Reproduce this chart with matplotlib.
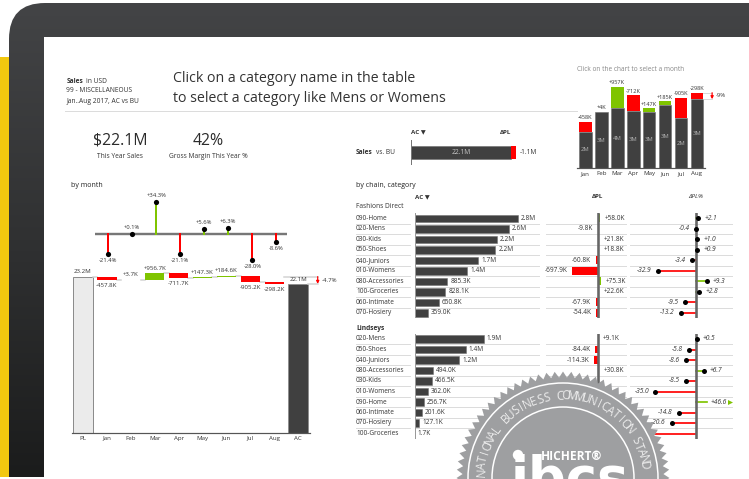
#!/usr/bin/env python3
"""Sales dashboard on a monitor frame, with waterfall, variance charts and tables."""
import numpy as np
import matplotlib
matplotlib.use('Agg')
import matplotlib.pyplot as plt
from matplotlib.patches import Circle, FancyBboxPatch, Polygon, Rectangle

plt.rcParams['font.family'] = ['Open Sans', 'DejaVu Sans']

W, H = 749, 479
DARK = '#404040'
RED = '#ff0000'
GREEN = '#7fc400'
TXT = '#333333'
GRID = '#dcdcdc'

months = ['Jan', 'Feb', 'Mar', 'Apr', 'May', 'Jun', 'Jul', 'Aug']

# by month
month_delta = [-457.8, 3.7, 956.7, -711.7, 147.3, 184.6, -905.2, -298.2]
month_pct = [-21.4, 0.1, 34.3, -21.1, 5.6, 6.3, -28.0, -8.6]
pl_total = 23.16
ac_total = 22.08
total_pct = -4.7

# top right columns
col_ac = [1.68, 2.58, 3.73, 2.63, 2.75, 3.07, 2.32, 3.17]
col_delta = [-458, 4, 957, -712, 147, 185, -905, -298]

# sales vs BU
bu_ac = 22.1
bu_delta = -1.1

# tables, values in K
fd_names = ['090-Home', '020-Mens', '030-Kids', '050-Shoes', '040-Juniors', '010-Womens',
            '080-Accessories', '100-Groceries', '060-Intimate', '070-Hosiery']
fd_ac = [2800, 2560, 2240, 2190, 1730, 1430, 885.3, 828.1, 650.8, 359.0]
fd_dpl = [58.0, -9.8, 21.8, 18.8, -60.8, -697.9, 75.3, 22.6, -67.9, -54.4]
fd_pct = [2.1, -0.4, 1.0, 0.9, -3.4, -32.9, 9.3, 2.8, -9.5, -13.2]

li_names = ['020-Mens', '050-Shoes', '040-Juniors', '080-Accessories', '030-Kids', '010-Womens',
            '090-Home', '060-Intimate', '070-Hosiery', '100-Groceries']
li_ac = [1880, 1390, 1210, 494.0, 466.5, 362.0, 256.7, 201.6, 127.1, 1.7]
li_dpl = [9.1, -84.4, -114.3, 30.8]  # the other rows sit behind the badge
li_pct = [0.5, -5.8, -8.6, 6.7, -8.5, -35.0, 46.6, -14.8, -20.6, -45.0]

fig = plt.figure(figsize=(W / 100, H / 100), dpi=100, facecolor='white')


def px(v):
    """Pixels to points."""
    return v * 0.72


def panel(x0, y0, x1, y1, zorder=1):
    """Axes placed by its pixel box, y measured from the top."""
    ax = fig.add_axes([x0 / W, 1 - y1 / H, (x1 - x0) / W, (y1 - y0) / H], zorder=zorder)
    ax.patch.set_alpha(0)
    for s in ax.spines.values():
        s.set_visible(False)
    ax.set_xticks([])
    ax.set_yticks([])
    return ax


def fmt_k(v):
    if v >= 1000:
        return f'{v / 1000:.1f}M'
    return f'{v:.1f}K'


def label(ax, x, y, s, dx=0, dy=0, ha='center', size=4.7, **kw):
    ax.annotate(s, (x, y), xytext=(px(dx), px(dy)), textcoords='offset points', ha=ha, va='center',
                fontsize=size, color=kw.pop('color', TXT), annotation_clip=False, **kw)


# frame and page
bg = panel(0, 0, W, H, zorder=0)
bg.set_xlim(0, W)
bg.set_ylim(H, 0)
bg.add_patch(Rectangle((0, 57), 10, 420, color='#f2c80f', lw=0))
frame = FancyBboxPatch((9 + 36, 3 + 36), W + 60, 520, boxstyle='round,pad=36,rounding_size=36',
                       fc='none', ec='none')
bg.add_patch(frame)
shade = np.linspace(0, 1, 256).reshape(-1, 1)
im = bg.imshow(shade, extent=(0, W + 100, 477, 3), cmap=matplotlib.colors.LinearSegmentedColormap.from_list(
    'frame', ['#434446', '#303132', '#1b1c1c']), aspect='auto', zorder=1)
im.set_clip_path(frame)
bg.set_xlim(0, W)
bg.set_ylim(H, 0)
bg.add_patch(Rectangle((44, 37), W, H, color='white', lw=0, zorder=2))

# header
bg.text(66.5, 81, 'Sales', fontsize=4.8, fontweight='bold', color=TXT, va='center', zorder=3)
bg.text(86.5, 81, 'in USD', fontsize=4.8, color=TXT, va='center', zorder=3)
bg.text(66.5, 90, '99 - MISCELLANEOUS', fontsize=4.8, color=TXT, va='center', zorder=3)
bg.text(66.5, 101, 'Jan..Aug 2017, AC vs BU', fontsize=4.8, color=TXT, va='center', zorder=3)
bg.text(173, 78, 'Click on a category name in the table', fontsize=10.2, color='#333333', va='center', zorder=3)
bg.text(173, 98, 'to select a category like Mens or Womens', fontsize=10.2, color='#333333', va='center', zorder=3)
bg.plot([65, 577], [111, 111], color=GRID, lw=px(1), zorder=3)

# KPIs
bg.text(120, 141, '$22.1M', fontsize=11.4, color='#2b2b2b', ha='center', va='center', zorder=3)
bg.text(120, 157, 'This Year Sales', fontsize=4.8, color=TXT, ha='center', va='center', zorder=3)
bg.text(208, 141, '42%', fontsize=11.4, color='#2b2b2b', ha='center', va='center', zorder=3)
bg.text(208, 157, 'Gross Margin This Year %', fontsize=4.8, color=TXT, ha='center', va='center', zorder=3)

bg.text(71, 185.5, 'by month', fontsize=5, color='#222222', va='center', zorder=3)
bg.text(356, 185.5, 'by chain, category', fontsize=5, color='#222222', va='center', zorder=3)
bg.text(577, 69, 'Click on the chart to select a month', fontsize=4.7, color='#888888', va='center', zorder=3)

# variance lollipops by month
ax = panel(95, 190, 287, 270)
ax.set_xlim((95 - 108.3) / 24, (287 - 108.3) / 24)
ax.set_ylim(-(270 - 234.3) / 0.93, (234.3 - 190) / 0.93)
ax.axhline(0, color='#777777', lw=px(2.4))
for i, v in enumerate(month_pct):
    c = GREEN if v > 0 else RED
    ax.plot([i, i], [0, v], color=c, lw=px(2), zorder=2)
    ax.plot([i], [v], 'o', color='black', ms=px(5.2), mew=0, zorder=3)
    label(ax, i, v, f'{v:+.1f}%', dy=7 if v > 0 else -6.5, size=4.2)

# waterfall by month
ax = panel(71.7, 260, 310, 432.7)
ax.set_xlim((71.7 - 83) / 23.9, (310 - 83) / 23.9)
ax.set_ylim(0, (432.7 - 260) / 6.74)
ax.spines['bottom'].set_visible(True)
ax.spines['bottom'].set_color('#555555')
ax.spines['bottom'].set_linewidth(px(1.2))
wf_ticks = ['PL'] + months + ['AC']
ax.set_xticks(range(len(wf_ticks)))
ax.set_xticklabels(wf_ticks, fontsize=4.4, color=TXT)
ax.tick_params(length=0, pad=px(3))
w = 19.4 / 23.9
ax.bar(0, pl_total, w, color='#ebebeb', edgecolor='#8c8c8c', lw=px(1))
ax.bar(9, ac_total, w, color=DARK, edgecolor='#8c8c8c', lw=px(0.8))
level = pl_total
for i, d in enumerate(month_delta, start=1):
    new = level + d / 1000
    ax.plot([i - 1 + w / 2, i - w / 2], [level, level], color='#d2d2d2', lw=px(1.5), zorder=1)
    ax.bar(i, abs(d) / 1000, w, bottom=min(level, new), color=GREEN if d > 0 else RED, zorder=2)
    top = max(level, new)
    low = min(level, new)
    if d > 0:
        label(ax, i, top, f'{d:+.1f}K', dy=5, size=4.4)
    else:
        label(ax, i, low, f'{d:+.1f}K', dy=-5.5, size=4.4)
    level = new
label(ax, 0, pl_total, f'{pl_total:.1f}M', dy=5, size=4.4)
label(ax, 9, ac_total, f'{ac_total + 0.02:.1f}M', dy=4.5, size=4.4)
# total variance on the right
ax.plot([8 + w / 2, 9.85], [pl_total, pl_total], color='#d2d2d2', lw=px(1.5), clip_on=False, zorder=1)
ax.plot([9 + w / 2, 9.85], [ac_total, ac_total], color='#d2d2d2', lw=px(1.5), clip_on=False, zorder=1)
ax.annotate('', xy=(9.82, ac_total), xytext=(9.82, pl_total), annotation_clip=False,
            arrowprops=dict(arrowstyle='-|>', color=RED, lw=px(1.2), mutation_scale=4, shrinkA=0, shrinkB=0))
label(ax, 9.82, (pl_total + ac_total) / 2, f'{total_pct:+.1f}%', dx=4, ha='left', size=4.4)

# columns top right
ax = panel(577.3, 85, 705, 168.3)
ax.set_xlim((577.3 - 585.3) / 15.95, (705 - 585.3) / 15.95)
ax.set_ylim(0, (168.3 - 85) / 21.8)
ax.spines['bottom'].set_visible(True)
ax.spines['bottom'].set_color('#555555')
ax.spines['bottom'].set_linewidth(px(1.2))
ax.set_xticks(range(len(months)))
ax.set_xticklabels(months, fontsize=4.4, color=TXT)
ax.tick_params(length=0, pad=px(2.5))
cw = 12.7 / 15.95
for i, (a, d) in enumerate(zip(col_ac, col_delta)):
    pl = a - d / 1000
    low, top = min(a, pl), max(a, pl)
    ax.bar(i, low, cw, color=DARK, edgecolor='#6f6f6f', lw=px(0.6))
    ax.bar(i, top - low, cw, bottom=low, color=GREEN if d > 0 else RED, lw=0)
    label(ax, i, low / 2, f'{a:.0f}M', color='#b5b5b5', size=4.2)
    label(ax, i, top, f'{d:+d}K', dy=4.2, size=4.1)
a, d = col_ac[-1], col_delta[-1]
pl = a - d / 1000
ax.plot([7 + cw / 2, 7.95], [pl, pl], color='#cfcfcf', lw=px(0.8), clip_on=False)
ax.plot([7 + cw / 2, 7.95], [a, a], color='#cfcfcf', lw=px(0.8), clip_on=False)
ax.annotate('', xy=(7.95, a), xytext=(7.95, pl), annotation_clip=False,
            arrowprops=dict(arrowstyle='-|>', color=RED, lw=px(1.2), mutation_scale=4, shrinkA=0, shrinkB=0))
label(ax, 7.95, (a + pl) / 2, '-9%', dx=4, ha='left', size=4.3)

# sales vs BU bar
bg.text(356, 153, 'Sales', fontsize=4.8, fontweight='bold', color=TXT, va='center', zorder=3)
bg.text(375.5, 153, 'vs. BU', fontsize=4.8, color=TXT, va='center', zorder=3)
bg.text(411, 132, 'AC ▼', fontsize=4.5, fontweight='bold', color=TXT, va='center', zorder=3)
bg.text(506, 132, 'ΔPL', fontsize=4.5, fontweight='bold', color=TXT, ha='center', va='center', zorder=3)
ax = panel(411.3, 140, 540, 165)
ax.set_xlim(0, (540 - 411.3) / 4.525)
ax.set_ylim(-0.5, 0.5)
ax.axvline(0, color='#777777', lw=px(1))
ax.barh(0, bu_ac, 0.5, color=DARK, edgecolor='#707070', lw=px(0.6))
ax.barh(0, -bu_delta, 0.5, left=bu_ac, color=RED)
label(ax, bu_ac / 2, 0, f'{bu_ac:.1f}M', color='#c8c8c8', size=4.8)
label(ax, bu_ac - bu_delta, 0, f'{bu_delta:.1f}M', dx=3, ha='left', size=4.8)

# column heads of the table
bg.text(415, 197, 'AC ▼', fontsize=4.5, fontweight='bold', color=TXT, va='center', zorder=3)
bg.text(598, 197, 'ΔPL', fontsize=4.5, fontweight='bold', color=TXT, ha='center', va='center', zorder=3)
bg.text(696, 197, 'ΔPL%', fontsize=4.5, fontstyle='italic', color=TXT, ha='center', va='center', zorder=3)
bg.text(356, 207, 'Fashions Direct', fontsize=4.8, color=TXT, va='center', zorder=3)
bg.text(356, 328, 'Lindseys', fontsize=4.8, fontweight='bold', color=TXT, va='center', zorder=3)


def table(y0, names, ac, dpl, pct):
    """One block of rows: names, AC bars, ΔPL bars and ΔPL% lollipops."""
    n = len(names)
    top, bottom = y0 - 5.25, y0 + (n - 0.5) * 10.5
    rows = np.arange(n)

    ax = panel(356, top, 411, bottom)
    ax.set_xlim(0, 1)
    ax.set_ylim(n - 0.5, -0.5)
    for r, name in zip(rows, names):
        ax.text(0, r, name, fontsize=4.7, color=TXT, va='center')
        if r < n - 1:
            ax.axhline(r + 0.5, color=GRID, lw=px(1))

    ax = panel(414.7, top, 540, bottom)
    ax.set_xlim(0, (540 - 414.7) / 36.8 * 1000)
    ax.set_ylim(n - 0.5, -0.5)
    for r in rows[:-1]:
        ax.axhline(r + 0.5, color=GRID, lw=px(1), zorder=0)
    ax.axvline(0, color='#999999', lw=px(1))
    ax.barh(rows, ac, 0.72, color=DARK, edgecolor='#6f6f6f', lw=px(0.5))
    for r, v in zip(rows, ac):
        label(ax, v, r, fmt_k(v), dx=3, ha='left', size=4.7)

    ax = panel(546, top, 627, bottom)
    ax.set_xlim((546 - 598) / 36.8 * 1000, (627 - 598) / 36.8 * 1000)
    ax.set_ylim(n - 0.5, -0.5)
    for r in rows[:-1]:
        ax.axhline(r + 0.5, color=GRID, lw=px(1), zorder=0)
    ax.axvline(0, color='#666666', lw=px(2.6), zorder=3)
    for r, v in enumerate(dpl):
        ax.barh(r, v, 0.76, color=GREEN if v > 0 else RED, zorder=2)
        label(ax, v, r, f'{v:+.1f}K', dx=4.5 if v > 0 else -4.5, ha='left' if v > 0 else 'right', size=4.7)

    ax = panel(630, top, 733, bottom)
    ax.set_xlim((630 - 696) / 1.17, (733 - 696) / 1.17)
    ax.set_ylim(n - 0.5, -0.5)
    for r in rows[:-1]:
        ax.axhline(r + 0.5, color=GRID, lw=px(1), zorder=0)
    ax.axvline(0, color='#666666', lw=px(2.6), zorder=3)
    for r, v in enumerate(pct):
        end = min(v, 9.3)  # long outliers get capped and marked with a triangle
        ax.plot([0, end], [r, r], color=GREEN if v > 0 else RED, lw=px(1.7), zorder=2)
        if v > 9.3:
            ax.plot([29], [r], '>', color=GREEN, ms=px(5), mew=0, clip_on=False)
            label(ax, end, r, f'{v:+.1f}', dx=4, ha='left', size=4.8, fontstyle='italic')
            continue
        ax.plot([end], [r], 'o', color='black', ms=px(5), mew=0, zorder=4)
        label(ax, end, r, f'{v:+.1f}', dx=6 if v > 0 else -6, ha='left' if v > 0 else 'right',
              size=4.8, fontstyle='italic')


table(218.3, fd_names, fd_ac, fd_dpl, fd_pct)
table(339, li_names, li_ac, li_dpl, li_pct)

# certificate badge over the corner of the table
top = panel(0, 0, W, H, zorder=10)
top.set_xlim(0, W)
top.set_ylim(H, 0)
cx, cy = 563, 478
GRAY = '#9e9fa1'
ang = np.linspace(0, 2 * np.pi, 161)[:-1]
rad = np.where(np.arange(160) % 2 == 0, 106.5, 100.5)
top.add_patch(Polygon(np.c_[cx + rad * np.cos(ang), cy + rad * np.sin(ang)], fc=GRAY, ec='none'))
top.add_patch(Circle((cx, cy), 95, fc='none', ec='white', lw=px(1.5)))
top.add_patch(Circle((cx, cy), 71, fc='none', ec='white', lw=px(1.5)))
ring_text = 'NATIONAL BUSINESS COMMUNICATION STAND'
for i, ch in enumerate(ring_text):
    t = 176 - 4.65 * i
    top.text(cx + 82 * np.cos(np.radians(t)), cy - 82 * np.sin(np.radians(t)), ch, rotation=t - 90,
             rotation_mode='anchor', ha='center', va='center', fontsize=8.4, color='#ececec')
top.text(572, 456, 'HICHERT®', fontsize=8.6, fontweight='bold', color='white', ha='center', va='center')
top.text(511, 495, 'ibcs', fontsize=38, fontweight='bold', color='white', ha='left', va='baseline',
         family=['DejaVu Sans'])
top.add_patch(Circle((518, 455), 5.2, fc='white', ec='none'))

fig.savefig('out.png', dpi=100)
